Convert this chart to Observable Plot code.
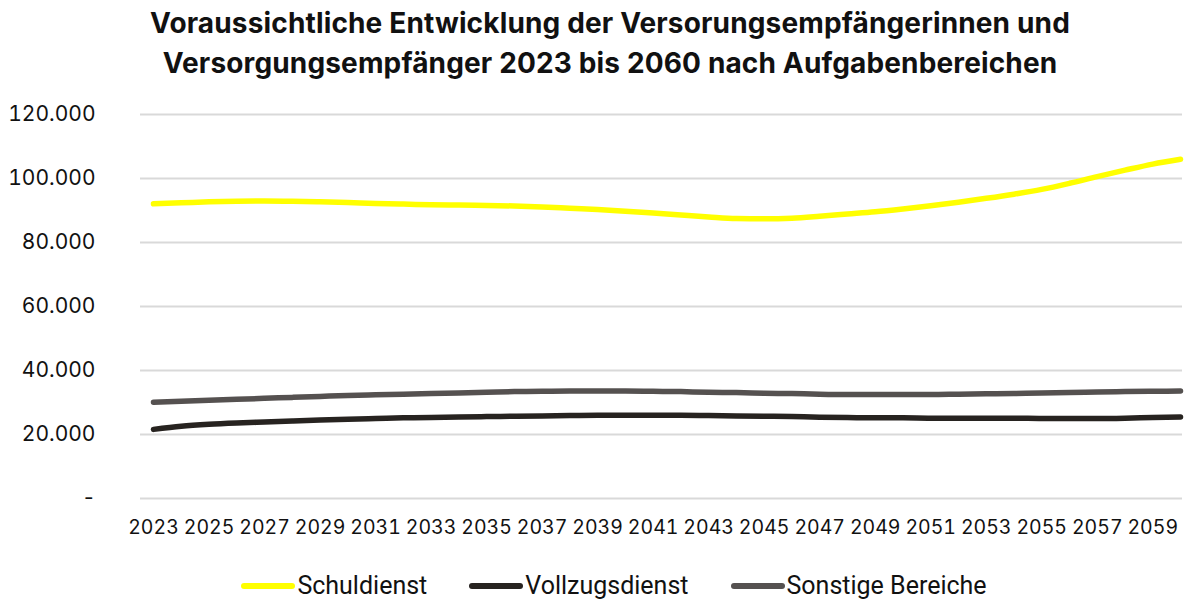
<!DOCTYPE html>
<html>
<head>
<meta charset="utf-8">
<script src="https://cdn.jsdelivr.net/npm/d3@7"></script>
<script src="https://cdn.jsdelivr.net/npm/@observablehq/plot@0.6"></script>
<style>
  html, body { margin: 0; padding: 0; background: #fff; }
  body { width: 1184px; height: 599px; overflow: hidden; font-family: Inter, "Noto Sans", sans-serif; }
  #title { text-align: center; font-weight: 700; font-size: 28px; line-height: 40px; color: #111; padding-top: 3px; height: 95px; box-sizing: border-box; letter-spacing: 0.15px; padding-left: 36px; }
  #legend { display: flex; justify-content: center; gap: 42px; font-family: Roboto, sans-serif; font-size: 25px; color: #111; margin-top: 16px; padding-left: 44px; }
  .item { display: flex; align-items: center; }
  .sw { width: 54px; height: 6px; border-radius: 3px; margin-right: 2px; }
</style>
</head>
<body>
<div id="title">Voraussichtliche Entwicklung der Versorungsempfängerinnen und<br>Versorgungsempfänger 2023 bis 2060 nach Aufgabenbereichen</div>
<div id="chart"></div>
<div id="legend"></div>
<script>
const years = d3.range(2023, 2061);
const seriesNames = ["Schuldienst", "Vollzugsdienst", "Sonstige Bereiche"];
const seriesColors = ["#FFFF00", "#272320", "#555150"];
const schuldienst = [92100, 92400, 92700, 92900, 93000, 92900, 92700, 92500, 92200, 92000,
  91800, 91700, 91600, 91400, 91100, 90700, 90300, 89800, 89200, 88600,
  88000, 87500, 87400, 87600, 88200, 88900, 89600, 90500, 91500, 92600,
  93800, 95100, 96600, 98500, 100600, 102600, 104500, 106000];
const vollzugsdienst = [21600, 22600, 23200, 23600, 23900, 24200, 24500, 24800, 25000, 25200,
  25300, 25500, 25600, 25700, 25800, 25900, 26000, 26000, 26000, 26000,
  25900, 25800, 25700, 25600, 25400, 25300, 25200, 25200, 25100, 25100,
  25100, 25100, 25000, 25000, 25000, 25100, 25300, 25500];
const sonstige = [30100, 30400, 30700, 31000, 31300, 31600, 31900, 32200, 32400, 32600,
  32800, 33000, 33200, 33400, 33500, 33600, 33600, 33600, 33500, 33400,
  33200, 33100, 32900, 32800, 32600, 32500, 32500, 32500, 32500, 32600,
  32700, 32800, 33000, 33100, 33300, 33400, 33500, 33600];
const yTicks = [0, 20000, 40000, 60000, 80000, 100000, 120000];
const xTicks = d3.range(2023, 2060, 2);

const seriesValues = [schuldienst, vollzugsdienst, sonstige];
const data = [];
seriesNames.forEach((name, i) => years.forEach((yr, j) => data.push({series: name, year: yr, value: seriesValues[i][j]})));

const fmt = v => v === 0 ? "-" : d3.format(",")(v).replace(/,/g, ".");

const chart = Plot.plot({
  width: 1184,
  height: 460,
  marginTop: 19,
  marginBottom: 57,
  marginLeft: 153,
  marginRight: 4,
  style: { fontFamily: "Inter, 'Noto Sans', sans-serif", color: "#111", background: "#fff" },
  x: { type: "linear", domain: [years[0], years[years.length - 1]], label: null },
  y: { domain: [0, 120000], label: null },
  color: { domain: seriesNames, range: seriesColors },
  marks: [
    Plot.ruleY(yTicks, { stroke: "#d9d9d9", strokeWidth: 2, insetLeft: -13, insetRight: -2 }),
    Plot.axisY({ ticks: yTicks, tickSize: 0, tickPadding: 58, tickFormat: fmt, label: null, fontSize: 21, fill: "#111" }),
    Plot.axisX({ ticks: xTicks, tickSize: 0, tickPadding: 22, label: null, tickFormat: d => String(d), fontSize: 19.5, fill: "#111" }),
    Plot.lineY(data, { x: "year", y: "value", stroke: "series", z: "series", strokeWidth: 5.5, strokeLinecap: "round", strokeLinejoin: "round", curve: "monotone-x" })
  ]
});
document.getElementById("chart").appendChild(chart);

const legend = document.getElementById("legend");
seriesNames.forEach((n, i) => {
  const it = document.createElement("div");
  it.className = "item";
  it.innerHTML = `<span class="sw" style="background:${seriesColors[i]}"></span><span>${n}</span>`;
  legend.appendChild(it);
});
</script>
</body>
</html>
